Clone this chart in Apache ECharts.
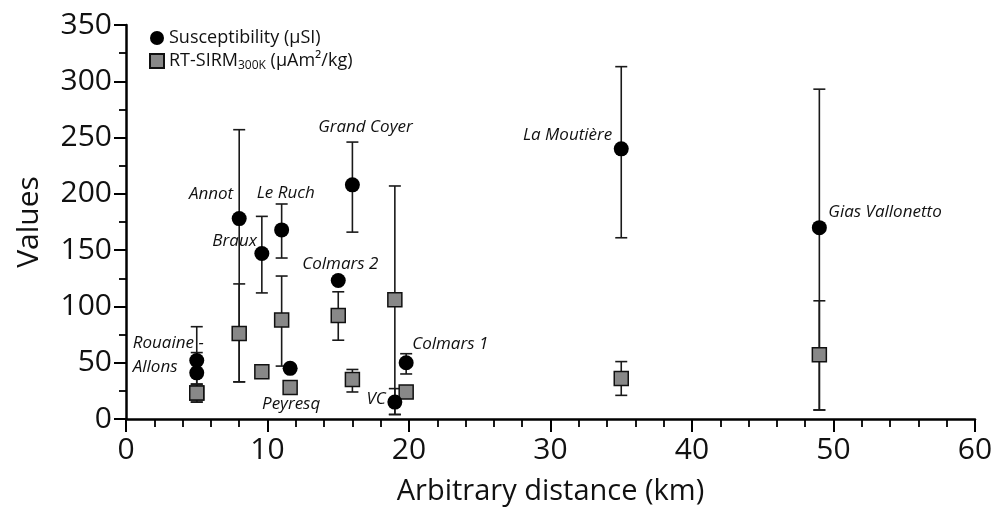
<!DOCTYPE html>
<html>
<head>
<meta charset="utf-8">
<script src="https://cdn.jsdelivr.net/npm/echarts@6/dist/echarts.min.js"></script>
<style>
html,body{margin:0;padding:0;background:#fff;}
#chart{width:992px;height:507px;}
</style>
</head>
<body>
<div id="chart"></div>
<script>
// ---- data ----
var sites = ['Rouaine -', 'Allons', 'Annot', 'Braux', 'Le Ruch', 'Peyresq', 'Colmars 2', 'Grand Coyer', 'VC', 'Colmars 1', 'La Moutière', 'Gias Vallonetto'];
var distance = [5, 5, 8, 9.6, 11, 11.6, 15, 16, 19, 19.8, 35, 49];
var susceptibility = [52, 41, 178, 147, 168, 45, 123, 208, 15, 50, 240, 170];
var susceptibilityLow = [22, 23, 33, 112, 143, 45, 123, 166, 4, 40, 161, 8];
var susceptibilityHigh = [82, 59, 257, 180, 191, 45, 123, 246, 27, 58, 313, 293];
var sirm = [23, 23, 76, 42, 88, 28, 92, 35, 106, 24, 36, 57];
var sirmLow = [15, 15, 33, 42, 47, 28, 70, 24, 4, 24, 21, 8];
var sirmHigh = [31, 31, 120, 42, 127, 28, 113, 44, 207, 24, 51, 105];
var xTicks = [0, 10, 20, 30, 40, 50, 60];
var yTicks = [0, 50, 100, 150, 200, 250, 300, 350];

// ---- label placement (pixel offsets from the susceptibility point) ----
var labelOffset = [[-64, -17], [-64, -6], [-6, -24], [-5, -12], [4, -37], [1, 36], [-36, -16], [13, -58], [-9, -3], [6, -19], [-9, -14], [9, -15]];
var labelAlign = ['left', 'left', 'right', 'right', 'center', 'center', 'left', 'center', 'right', 'left', 'right', 'left'];

var FONT = '"Open Sans", "Noto Sans", sans-serif';
var LINE = '#1a1a1a';

var suscData = distance.map(function (d, i) { return [d, susceptibility[i]]; });
var sirmData = distance.map(function (d, i) { return [d, sirm[i]]; });
var errData = [];
distance.forEach(function (d, i) {
  if (susceptibilityHigh[i] > susceptibilityLow[i]) errData.push([d, susceptibilityLow[i], susceptibilityHigh[i]]);
  if (sirmHigh[i] > sirmLow[i]) errData.push([d, sirmLow[i], sirmHigh[i]]);
});
var labelData = distance.map(function (d, i) { return [d, susceptibility[i], i]; });

function renderErr(params, api) {
  var x = api.value(0);
  var lo = api.coord([x, api.value(1)]);
  var hi = api.coord([x, api.value(2)]);
  var hw = 6;
  var st = { stroke: LINE, lineWidth: 1.6 };
  return {
    type: 'group',
    children: [
      { type: 'line', shape: { x1: lo[0], y1: lo[1], x2: hi[0], y2: hi[1] }, style: st },
      { type: 'line', shape: { x1: lo[0] - hw, y1: lo[1], x2: lo[0] + hw, y2: lo[1] }, style: st },
      { type: 'line', shape: { x1: hi[0] - hw, y1: hi[1], x2: hi[0] + hw, y2: hi[1] }, style: st }
    ]
  };
}

function renderLabel(params, api) {
  var i = api.value(2);
  var p = api.coord([api.value(0), api.value(1)]);
  var off = labelOffset[i];
  return {
    type: 'text',
    style: {
      x: p[0] + off[0], y: p[1] + off[1],
      text: sites[i],
      fill: '#111',
      font: 'italic 17px ' + FONT,
      textAlign: labelAlign[i],
      textVerticalAlign: 'middle'
    }
  };
}

var chart = echarts.init(document.getElementById('chart'), null, { renderer: 'canvas' });
chart.setOption({
  animation: false,
  backgroundColor: '#fff',
  textStyle: { fontFamily: FONT },
  grid: { left: 126, right: 17, top: 25, bottom: 88, containLabel: false, outerBoundsMode: 'none' },
  legend: {
    orient: 'vertical',
    left: 144, top: 24,
    itemWidth: 14, itemHeight: 14, itemGap: 5,
    data: [
      { name: 'Susceptibility (μSI)', icon: 'circle' },
      { name: 'RT-SIRM', icon: 'rect' }
    ],
    formatter: function (n) {
      if (n === 'RT-SIRM') return 'RT-SIRM{sub|300K} (μAm²/kg)';
      return n;
    },
    textStyle: {
      fontFamily: FONT, fontSize: 18, color: '#111',
      rich: { sub: { fontFamily: FONT, fontSize: 12, color: '#111', verticalAlign: 'bottom', padding: [10, 0, 0, 0] } }
    }
  },
  xAxis: {
    type: 'value', min: 0, max: 60, interval: 10,
    name: 'Arbitrary distance (km)', nameLocation: 'middle', nameGap: 58,
    nameTextStyle: { fontFamily: FONT, fontSize: 29, color: '#111' },
    axisLine: { onZero: false, lineStyle: { color: '#000', width: 2.5 } },
    axisTick: { show: true, length: 13, lineStyle: { color: '#000', width: 2 } },
    minorTick: { show: true, splitNumber: 5, length: 8, lineStyle: { color: '#000', width: 1.8 } },
    axisLabel: { fontFamily: FONT, fontSize: 30, color: '#111', margin: 16,
      formatter: function (v) { return xTicks.indexOf(v) >= 0 ? String(v) : ''; } },
    splitLine: { show: false }
  },
  yAxis: {
    type: 'value', min: 0, max: 350, interval: 50,
    name: 'Values', nameLocation: 'middle', nameGap: 82,
    nameTextStyle: { fontFamily: FONT, fontSize: 30, color: '#111' },
    axisLine: { show: true, onZero: false, lineStyle: { color: '#000', width: 2.5 } },
    axisTick: { show: true, length: 12, lineStyle: { color: '#000', width: 2 } },
    minorTick: { show: true, splitNumber: 2, length: 7, lineStyle: { color: '#000', width: 1.8 } },
    axisLabel: { fontFamily: FONT, fontSize: 30, color: '#111', margin: 14,
      formatter: function (v) { return yTicks.indexOf(v) >= 0 ? String(v) : ''; } },
    splitLine: { show: false }
  },
  series: [
    { type: 'custom', name: 'err', renderItem: renderErr, data: errData, z: 1, silent: true,
      encode: { x: 0, y: [1, 2] } },
    { type: 'scatter', name: 'RT-SIRM', data: sirmData, symbol: 'rect', symbolSize: 14, z: 3,
      itemStyle: { color: '#888888', borderColor: '#111', borderWidth: 1.5, opacity: 1 } },
    { type: 'scatter', name: 'Susceptibility (μSI)', data: suscData, symbol: 'circle', symbolSize: 15, z: 4,
      itemStyle: { color: '#000', opacity: 1 } },
    { type: 'custom', name: 'labels', renderItem: renderLabel, data: labelData, z: 5, silent: true,
      encode: { x: 0, y: 1 } }
  ]
});
</script>
</body>
</html>
